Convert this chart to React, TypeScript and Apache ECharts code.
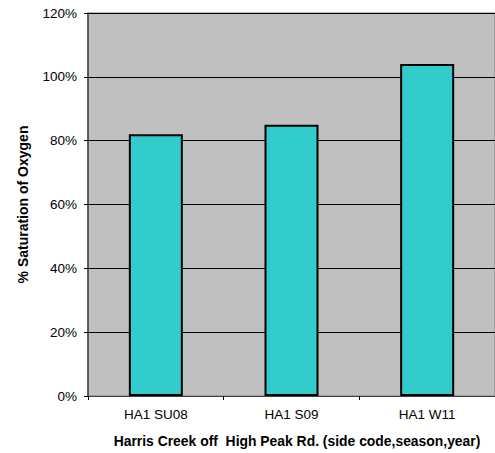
import React, { useEffect, useRef } from "react";
import * as echarts from "echarts";

const categories = ["HA1 SU08", "HA1 S09", "HA1 W11"];
const saturationValues = [82, 85, 104];
const yTicks = { min: 0, max: 120, interval: 20 };
const xAxisTitle = "Harris Creek off  High Peak Rd. (side code,season,year)";
const yAxisTitle = "% Saturation of Oxygen";

export default function App() {
  const ref = useRef<HTMLDivElement>(null);
  useEffect(() => {
    if (!ref.current) return;
    const chart = echarts.init(ref.current, null, { renderer: "svg" });
    const font = "Arial, 'Liberation Sans', sans-serif";
    chart.setOption({
      animation: false,
      backgroundColor: "#ffffff",
      grid: {
        left: 88,
        top: 13,
        right: -13,
        bottom: 57,
        show: true,
        backgroundColor: "#c0c0c0",
        borderColor: "#808080",
        borderWidth: 1,
      },
      xAxis: {
        type: "category",
        data: categories,
        boundaryGap: true,
        axisLine: { show: true, lineStyle: { color: "#404040", width: 1 } },
        axisTick: { show: true, length: 4, lineStyle: { color: "#000" } },
        axisLabel: { color: "#000", fontSize: 13.5, fontFamily: font, margin: 11 },
        name: xAxisTitle,
        nameLocation: "middle",
        nameGap: 38,
        nameTextStyle: {
          color: "#000",
          fontSize: 13.9,
          fontWeight: "bold",
          fontFamily: font,
          padding: [0, 0, 0, 11],
        },
      },
      yAxis: {
        type: "value",
        min: yTicks.min,
        max: yTicks.max,
        interval: yTicks.interval,
        axisLine: { show: true, lineStyle: { color: "#404040", width: 1.5 } },
        axisTick: { show: true, length: 4, lineStyle: { color: "#000" } },
        axisLabel: { color: "#000", fontSize: 13.5, fontFamily: font, margin: 11, formatter: "{value}%" },
        splitLine: { show: true, lineStyle: { color: "#000", width: 1 } },
        name: yAxisTitle,
        nameLocation: "middle",
        nameGap: 58,
        nameTextStyle: { color: "#000", fontSize: 14, fontWeight: "bold", fontFamily: font },
      },
      series: [
        {
          type: "bar",
          data: saturationValues,
          barWidth: 54,
          itemStyle: { color: "#33cccc", borderColor: "#000", borderWidth: 2 },
        },
      ],
    });
    return () => chart.dispose();
  }, []);
  return (
    <div
      ref={ref}
      style={{ position: "fixed", left: 0, top: 0, width: 495, height: 453 }}
    />
  );
}
